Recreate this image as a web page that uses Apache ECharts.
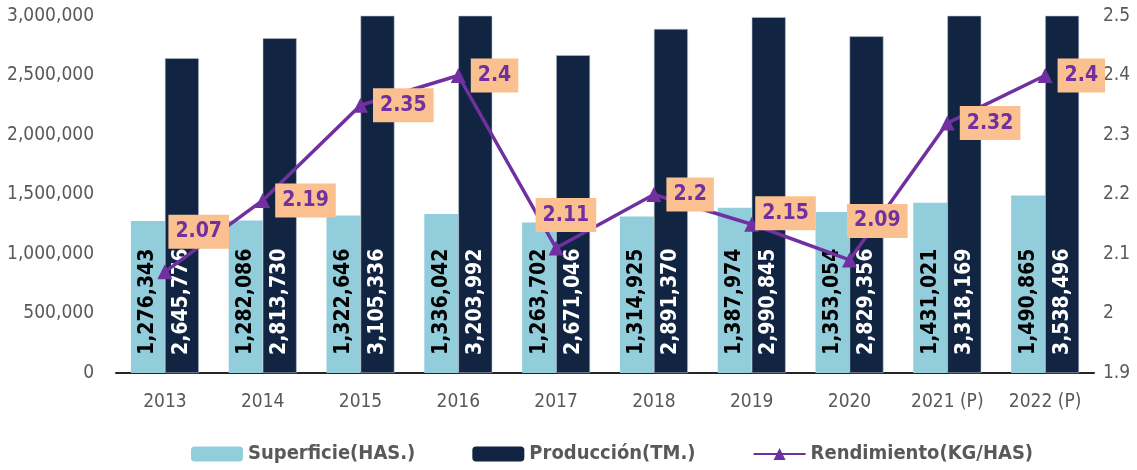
<!DOCTYPE html>
<html>
<head>
<meta charset="utf-8">
<script src="https://cdn.jsdelivr.net/npm/echarts@6/dist/echarts.min.js"></script>
<style>
  html, body { margin: 0; padding: 0; background: #fff; }
  #chart { width: 1137px; height: 470px; }
</style>
</head>
<body>
<div id="chart"></div>
<script>
const years = ["2013", "2014", "2015", "2016", "2017", "2018", "2019", "2020", "2021 (P)", "2022 (P)"];
const superficie = [1276343, 1282086, 1322646, 1336042, 1263702, 1314925, 1387974, 1353054, 1431021, 1490865];
const produccion = [2645776, 2813730, 3105336, 3203992, 2671046, 2891370, 2990845, 2829356, 3318169, 3538496];
const rendimiento = [2.07, 2.19, 2.35, 2.4, 2.11, 2.2, 2.15, 2.09, 2.32, 2.4];
// desplazamiento de las etiquetas del rendimiento
const labelShift = [[-9, -40], [0, 0], [0, 0], [0, 0], [-33, -33], [0, 0], [-9, -11], [-15, -39], [0, 0], [0, 0]];

const font = "'DejaVu Sans Condensed', 'DejaVu Sans', sans-serif";
const fmt = v => v.toLocaleString("en-US");

const barLabel = color => ({
  show: true,
  position: "insideBottom",
  rotate: 90,
  align: "left",
  verticalAlign: "middle",
  distance: 18,
  color: color,
  fontFamily: font,
  fontWeight: "bold",
  fontSize: 21,
  formatter: p => fmt(p.value)
});

const chart = echarts.init(document.getElementById("chart"));
chart.setOption({
  animation: false,
  textStyle: { fontFamily: font },
  grid: { left: 116, right: 43, top: 16, bottom: 97 },
  legend: {
    bottom: 1,
    left: 186,
    itemWidth: 52,
    itemHeight: 15,
    itemGap: 57,
    itemStyle: { borderWidth: 0 },
    textStyle: { fontFamily: font, fontWeight: "bold", fontSize: 20, color: "#595959" },
    data: ["Superficie(HAS.)", "Producción(TM.)", "Rendimiento(KG/HAS)"]
  },
  xAxis: {
    type: "category",
    data: years,
    axisTick: { show: false },
    axisLine: { lineStyle: { color: "#262626", width: 2 } },
    axisLabel: { color: "#595959", fontSize: 19, margin: 20 }
  },
  yAxis: [
    {
      type: "value",
      min: 0,
      max: 3000000,
      interval: 500000,
      splitLine: { show: false },
      axisLabel: { color: "#595959", fontSize: 19, margin: 22, formatter: v => fmt(v) }
    },
    {
      type: "value",
      min: 1.9,
      max: 2.5,
      interval: 0.1,
      splitLine: { show: false },
      axisLabel: { color: "#595959", fontSize: 19, margin: 9, formatter: v => String(+v.toFixed(1)) }
    }
  ],
  series: [
    {
      name: "Superficie(HAS.)",
      type: "bar",
      data: superficie,
      barWidth: 34,
      barGap: "0%",
      itemStyle: { color: "#92CDDC" },
      label: barLabel("#000000")
    },
    {
      name: "Producción(TM.)",
      type: "bar",
      data: produccion,
      barWidth: 34,
      itemStyle: { color: "#112442", borderColor: "#b8c4d2", borderWidth: 0.6 },
      label: barLabel("#ffffff")
    },
    {
      name: "Rendimiento(KG/HAS)",
      type: "line",
      yAxisIndex: 1,
      symbol: "triangle",
      symbolSize: 15,
      z: 5,
      lineStyle: { color: "#7030A0", width: 3.5 },
      itemStyle: { color: "#7030A0" },
      label: {
        show: true,
        position: "right",
        distance: 5,
        backgroundColor: "#FAC090",
        padding: [7, 7, 6, 7],
        color: "#7030A0",
        fontFamily: font,
        fontWeight: "bold",
        fontSize: 21
      },
      data: rendimiento.map((v, i) => ({ value: v, label: { offset: labelShift[i] } }))
    }
  ]
});
</script>
</body>
</html>
